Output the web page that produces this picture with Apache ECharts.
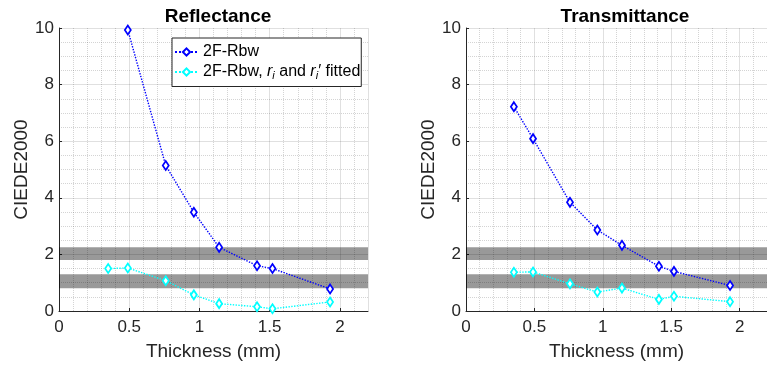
<!DOCTYPE html>
<html>
<head>
<meta charset="utf-8">
<script src="https://cdn.jsdelivr.net/npm/echarts@6/dist/echarts.min.js"></script>
<style>
  html, body { margin: 0; padding: 0; background: #fff; }
  #chart { width: 767px; height: 367px; }
</style>
</head>
<body>
<div id="chart"></div>
<script>
// thickness (mm) of the samples
const thickness = [0.35, 0.49, 0.76, 0.96, 1.14, 1.41, 1.52, 1.93];
// CIEDE2000 values
const reflRbw = [null, 9.93, 5.14, 3.49, 2.25, 1.60, 1.50, 0.78];
const reflFitted = [1.50, 1.52, 1.07, 0.57, 0.26, 0.15, 0.08, 0.32];
const transRbw = [7.22, 6.09, 3.84, 2.86, 2.32, 1.58, 1.40, 0.90];
const transFitted = [1.37, 1.38, 0.96, 0.67, 0.81, 0.41, 0.52, 0.33];
// shaded threshold bands
const bands = [[1.8, 2.25], [0.8, 1.3]];
const titles = ['Reflectance', 'Transmittance'];
const xTicks = [0, 0.5, 1, 1.5, 2];

const FONT = 'Liberation Sans, Arial, sans-serif';
const INK = '#262626';
const nameRbw = '2F-Rbw';
const nameFit = '2F-Rbw fitted';

const myChart = echarts.init(document.getElementById('chart'));

const pairs = (ys) => thickness.map((x, i) => [x, ys[i]]);

const makeX = (gi) => ({
  type: 'value',
  gridIndex: gi,
  min: 0,
  max: 2.2,
  interval: 0.5,
  name: 'Thickness (mm)',
  nameLocation: 'middle',
  nameGap: 31,
  nameTextStyle: { fontFamily: FONT, fontSize: 19, color: INK },
  axisLine: { show: true, onZero: false, lineStyle: { color: INK, width: 1 } },
  axisTick: { show: true, inside: true, length: 3, lineStyle: { color: INK } },
  minorTick: { show: false, splitNumber: 5 },
  axisLabel: {
    fontFamily: FONT, fontSize: 17, color: INK, margin: 8,
    showMaxLabel: false,
    formatter: (v) => (xTicks.indexOf(v) >= 0 ? String(v) : '')
  },
  splitLine: { show: true, lineStyle: { color: 'rgba(38,38,38,0.14)', width: 1 } },
  minorSplitLine: { show: true, lineStyle: { color: 'rgba(38,38,38,0.2)', type: 'dotted', width: 1 } }
});

const makeY = (gi) => ({
  type: 'value',
  gridIndex: gi,
  min: 0,
  max: 10,
  interval: 2,
  name: 'CIEDE2000',
  nameLocation: 'middle',
  nameGap: 28,
  nameTextStyle: { fontFamily: FONT, fontSize: 19, color: INK },
  axisLine: { show: true, onZero: false, lineStyle: { color: INK, width: 1 } },
  axisTick: { show: true, inside: true, length: 3, lineStyle: { color: INK } },
  minorTick: { show: false, splitNumber: 4 },
  axisLabel: { fontFamily: FONT, fontSize: 17, color: INK, margin: 5 },
  splitLine: { show: true, lineStyle: { color: 'rgba(38,38,38,0.14)', width: 1 } },
  minorSplitLine: { show: true, lineStyle: { color: 'rgba(38,38,38,0.2)', type: 'dotted', width: 1 } }
});

const makeLine = (name, color, ys, gi) => ({
  name,
  type: 'line',
  xAxisIndex: gi,
  yAxisIndex: gi,
  data: pairs(ys),
  symbol: 'diamond',
  symbolSize: [6, 9],
  showAllSymbol: true,
  connectNulls: false,
  lineStyle: { color, width: 1.4, type: 'dotted' },
  itemStyle: { color: '#ffffff', borderColor: color, borderWidth: 1.8 },
  z: 3
});

const makeBands = (gi) => ({
  name: 'bands' + gi,
  type: 'line',
  xAxisIndex: gi,
  yAxisIndex: gi,
  data: [],
  silent: true,
  z: 6,
  markArea: {
    silent: true,
    itemStyle: { color: 'rgba(0,0,0,0.4)' },
    data: bands.map((b) => [{ xAxis: 0, yAxis: b[0] }, { xAxis: 2.2, yAxis: b[1] }])
  }
});

const option = {
  animation: false,
  backgroundColor: '#fff',
  title: titles.map((t, i) => ({
    text: t,
    left: i === 0 ? 213 : 620,
    top: 2,
    textAlign: 'center',
    textStyle: { fontFamily: FONT, fontSize: 19, fontWeight: 'bold', color: '#000' }
  })),
  grid: [
    { left: 59, top: 28, width: 309, height: 283 },
    { left: 466, top: 28, width: 308, height: 283 }
  ],
  xAxis: [makeX(0), makeX(1)],
  yAxis: [makeY(0), makeY(1)],
  legend: {
    data: [nameRbw, nameFit],
    orient: 'vertical',
    left: 172,
    top: 38,
    padding: [6, 1, 5, 2],
    itemGap: 4,
    itemWidth: 23,
    itemHeight: 9,
    backgroundColor: '#fff',
    borderColor: INK,
    borderWidth: 1,
    borderRadius: 0,
    textStyle: {
      fontFamily: FONT, fontSize: 16, color: '#000',
      rich: {
        it: { fontFamily: FONT, fontSize: 16, fontStyle: 'italic', color: '#000' },
        sub: { fontFamily: FONT, fontSize: 11, fontStyle: 'italic', color: '#000', verticalAlign: 'bottom', padding: [8, 0, 0, 0] }
      }
    },
    formatter: (name) => (name === nameFit
      ? '2F-Rbw, {it|r}{sub|i} and {it|r}{sub|i}′ fitted'
      : name)
  },
  series: [
    makeLine(nameRbw, '#0000ff', reflRbw, 0),
    makeLine(nameFit, '#00ffff', reflFitted, 0),
    makeBands(0),
    makeLine(nameRbw, '#0000ff', transRbw, 1),
    makeLine(nameFit, '#00ffff', transFitted, 1),
    makeBands(1)
  ]
};

myChart.setOption(option, true);

window.addEventListener('resize', () => {
  myChart.resize();
});
</script>
</body>
</html>
